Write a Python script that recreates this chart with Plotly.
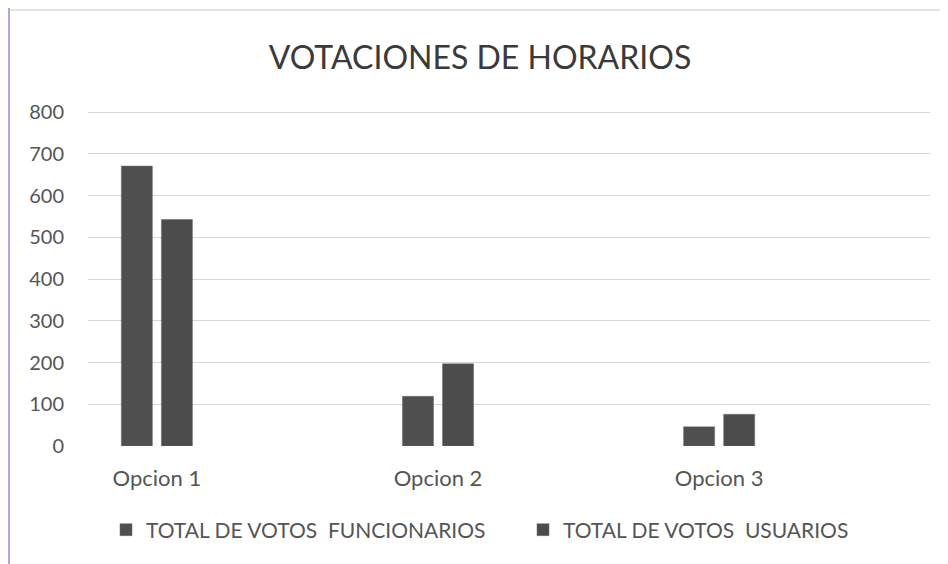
import plotly.graph_objects as go

categories = ["Opcion 1", "Opcion 2", "Opcion 3"]
funcionarios = [671, 119, 46]
usuarios = [543, 197, 76]
series_names = ["TOTAL DE VOTOS\u00a0 FUNCIONARIOS", "TOTAL DE VOTOS\u00a0 USUARIOS"]
y_ticks = [0, 100, 200, 300, 400, 500, 600, 700, 800]

font_family = "Lato, 'Open Sans', sans-serif"

# page body has an 8px margin, so the figure is sized/placed to compensate
W, H = 940, 556
L, R, T, B = 80, 18, 103, 118
PW, PH = W - L - R, H - T - B

fig = go.Figure()
fig.add_trace(go.Bar(x=categories, y=funcionarios, name=series_names[0], legend="legend",
                     marker=dict(color="#4f4f4f", line=dict(color="#6a6a6a", width=0.5))))
fig.add_trace(go.Bar(x=categories, y=usuarios, name=series_names[1], legend="legend2",
                     marker=dict(color="#4c4c4c", line=dict(color="#6a6a6a", width=0.5))))

legend_common = dict(orientation="h", xanchor="left", yanchor="middle",
                     y=-(522 - (T + PH)) / PH, font=dict(size=21, color="#555555"),
                     itemwidth=30, bgcolor="rgba(0,0,0,0)")

fig.update_layout(
    width=W, height=H,
    paper_bgcolor="white", plot_bgcolor="white",
    margin=dict(l=L, r=R, t=T, b=B, autoexpand=False),
    barmode="group", bargap=0.715, bargroupgap=0.225,
    title=dict(text="VOTACIONES DE HORARIOS", x=(480 - 8) / W, xref="container", xanchor="center",
               y=1 - (58 - 8) / H, yref="container", yanchor="middle",
               font=dict(family=font_family, size=32, color="#3a3a3a")),
    font=dict(family=font_family, size=20, color="#555555"),
    legend=dict(x=(98 - L) / PW, **legend_common),
    legend2=dict(x=(515 - L) / PW, **legend_common),
    showlegend=True,
)
fig.update_xaxes(type="category", range=[-0.245, 2.75], showgrid=False, showline=False,
                 ticks="", ticklabelstandoff=17, tickfont=dict(size=22, color="#555555"))
fig.update_yaxes(range=[0, 803], tickvals=y_ticks, showgrid=True, gridcolor="#d6d6d6",
                 gridwidth=1, zeroline=False, showline=False, ticks="",
                 ticklabelstandoff=23, tickfont=dict(size=20, color="#555555"))

# frame of the chart area (scanned border)
fig.add_shape(type="line", xref="paper", yref="paper",
              x0=(2 - L) / PW, x1=1.05, y0=1 + (T - 2) / PH, y1=1 + (T - 2) / PH,
              line=dict(color="#c8c8c8", width=1))
fig.add_shape(type="line", xref="paper", yref="paper",
              x0=(1 - L) / PW, x1=(1 - L) / PW, y0=-1, y1=2,
              line=dict(color="#b9a2e0", width=2))

fig.write_html("out.html")
